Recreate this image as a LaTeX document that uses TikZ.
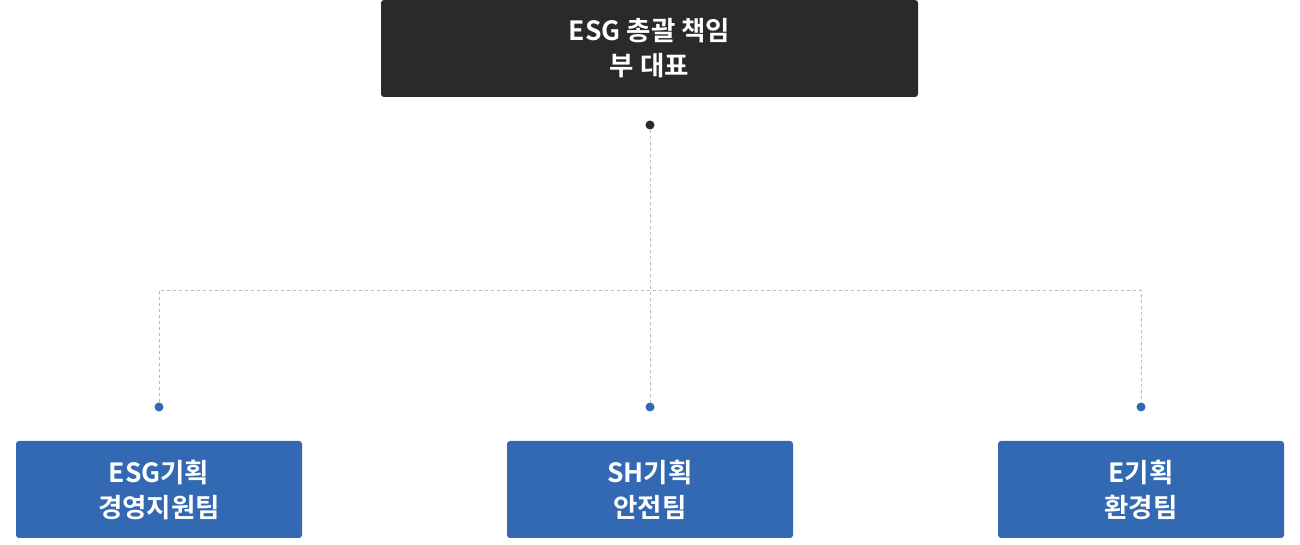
\documentclass[tikz,border=0pt]{standalone}
\usepackage{fontspec}
\newfontfamily\krfont{Noto Sans CJK KR Bold}
\definecolor{headdark}{HTML}{2B2A2B}
\definecolor{teamblue}{HTML}{3269B2}
\definecolor{linegray}{HTML}{BBBBBB}

\begin{document}
\begin{tikzpicture}[
  x=1pt, y=1pt,
  box/.style = {
    rounded corners=3pt,
    align=center,
    text=white,
    font={\krfont\fontsize{26.5}{35}\selectfont},
    inner sep=0pt,
    minimum height=97pt
  },
  head/.style = {box, fill=headdark, minimum width=537pt},
  team/.style = {box, fill=teamblue, minimum width=286pt},
  dot/.style = {circle, inner sep=0pt, minimum size=9pt},
  link/.style = {draw=linegray, line width=0.9pt, dash pattern=on 3pt off 3pt}
]
\useasboundingbox (0,0) rectangle (1300,545);

% Top: responsible head
\node[head] (H) at (649.5,496.5) {ESG 총괄 책임\\부 대표};

% Bottom row: teams
\node[team] (T1) at (159,55.5) {ESG기획\\경영지원팀};
\node[team] (T2) at (650,55.5) {SH기획\\안전팀};
\node[team] (T3) at (1141,55.5) {E기획\\환경팀};

% Connector dots
\node[dot, fill=headdark] (D0) at (650,420) {};
\node[dot, fill=teamblue] (D1) at (159,138) {};
\node[dot, fill=teamblue] (D2) at (650,138) {};
\node[dot, fill=teamblue] (D3) at (1141,138) {};
\coordinate (J) at (650,255);

% Dashed tree
\draw[link] (D0.south) -- (D2.north);
\draw[link] (D1.north) |- (J) -| (D3.north);

\end{tikzpicture}
\end{document}
